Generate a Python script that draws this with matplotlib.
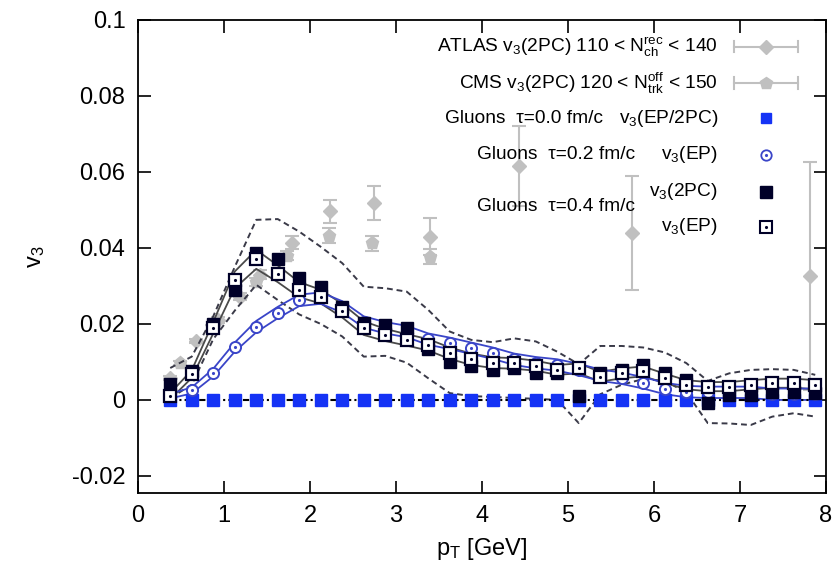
import matplotlib
matplotlib.use("Agg")
import matplotlib.pyplot as plt

plt.rcParams['font.family'] = ['Liberation Sans', 'DejaVu Sans']
plt.rcParams['mathtext.fontset'] = 'custom'
plt.rcParams['mathtext.rm'] = 'Liberation Sans'
plt.rcParams['mathtext.it'] = 'Liberation Sans:italic'
plt.rcParams['mathtext.bf'] = 'Liberation Sans:bold'

# ---------------- data ----------------
pt = [0.375, 0.625, 0.875, 1.125, 1.375, 1.625, 1.875, 2.125, 2.375, 2.625,
      2.875, 3.125, 3.375, 3.625, 3.875, 4.125, 4.375, 4.625, 4.875, 5.125,
      5.375, 5.625, 5.875, 6.125, 6.375, 6.625, 6.875, 7.125, 7.375, 7.625, 7.875]

v3_tau00 = [0.0] * 31

v3_tau02_ep = [0.0010, 0.0025, 0.0072, 0.0139, 0.0193, 0.0230, 0.0262, 0.0268, 0.0245, 0.0205,
               0.0190, 0.0180, 0.0160, 0.0149, 0.0136, 0.0123, 0.0107, 0.0098, 0.0092, 0.0080,
               0.0065, 0.0057, 0.0045, 0.0030, 0.0022, 0.0020, 0.0020, 0.0020, 0.0015, 0.0015, 0.0015]
err_tau02_ep = [0.0006, 0.0008, 0.0010, 0.0012, 0.0015, 0.0015, 0.0015, 0.0015, 0.0015, 0.0015,
                0.0015, 0.0015, 0.0015, 0.0015, 0.0015, 0.0015, 0.0015, 0.0015, 0.0015, 0.0015,
                0.0015, 0.0015, 0.0015, 0.0015, 0.0015, 0.0015, 0.0015, 0.0015, 0.0015, 0.0015, 0.0015]

v3_tau04_2pc = [0.0041, 0.0076, 0.0200, 0.0290, 0.0386, 0.0370, 0.0320, 0.0297, 0.0245, 0.0203,
                0.0197, 0.0189, 0.0133, 0.0100, 0.0088, 0.0080, 0.0084, 0.0072, 0.0071, 0.0010,
                0.0070, 0.0079, 0.0092, 0.0070, 0.0053, -0.0009, 0.0013, 0.0013, 0.0022, 0.0022, 0.0018]
band_2pc_hi = [0.0084, 0.0114, 0.0220, 0.0350, 0.0474, 0.0476, 0.0443, 0.0403, 0.0360, 0.0298,
               0.0294, 0.0285, 0.0237, 0.0180, 0.0158, 0.0152, 0.0162, 0.0154, 0.0127, 0.0094,
               0.0142, 0.0142, 0.0138, 0.0125, 0.0097, 0.0050, 0.0070, 0.0079, 0.0081, 0.0079, 0.0066]
band_2pc_lo = [0.0005, 0.0040, 0.0160, 0.0235, 0.0303, 0.0263, 0.0225, 0.0200, 0.0167, 0.0114,
               0.0116, 0.0098, 0.0057, 0.0018, 0.0010, 0.0008, 0.0005, 0.0003, 0.0000, -0.0061,
               0.0015, 0.0040, 0.0055, 0.0050, 0.0020, -0.0061, -0.0062, -0.0066, -0.0044, -0.0035, -0.0044]

v3_tau04_ep = [0.0010, 0.0068, 0.0190, 0.0316, 0.0370, 0.0332, 0.0290, 0.0272, 0.0235, 0.0189,
               0.0171, 0.0158, 0.0145, 0.0123, 0.0107, 0.0098, 0.0096, 0.0090, 0.0079, 0.0083,
               0.0061, 0.0070, 0.0075, 0.0057, 0.0040, 0.0035, 0.0035, 0.0040, 0.0044, 0.0044, 0.0040]
err_tau04_ep = [0.0008, 0.0010, 0.0015, 0.0022, 0.0025, 0.0022, 0.0020, 0.0018, 0.0018, 0.0018,
                0.0016, 0.0015, 0.0015, 0.0015, 0.0015, 0.0014, 0.0014, 0.0013, 0.0013, 0.0013,
                0.0013, 0.0013, 0.0013, 0.0012, 0.0012, 0.0012, 0.0012, 0.0012, 0.0012, 0.0012, 0.0012]

atlas_pt = [0.37, 0.68, 0.93, 1.19, 1.42, 1.79, 2.23, 2.74, 3.40, 4.43, 5.74, 7.81]
atlas_v3 = [0.0057, 0.0155, 0.0210, 0.0272, 0.0330, 0.0414, 0.0496, 0.0518, 0.0430, 0.0616, 0.0439, 0.0325]
atlas_err = [0.0005, 0.0006, 0.0008, 0.0010, 0.0012, 0.0018, 0.0031, 0.0045, 0.0049, 0.0105, 0.0150, 0.0300]

cms_pt = [0.49, 0.86, 1.37, 1.73, 2.22, 2.72, 3.40]
cms_v3 = [0.0097, 0.0190, 0.0310, 0.0380, 0.0432, 0.0412, 0.0377]
cms_err = [0.0005, 0.0008, 0.0010, 0.0012, 0.0020, 0.0020, 0.0020]

xticks = [0, 1, 2, 3, 4, 5, 6, 7, 8]
xtick_labels = ['0', '1', '2', '3', '4', '5', '6', '7', '8']
yticks = [-0.02, 0.0, 0.02, 0.04, 0.06, 0.08, 0.1]
ytick_labels = ['-0.02', '0', '0.02', '0.04', '0.06', '0.08', '0.1']

# ---------------- styles ----------------
GRAY = '#c0c0c0'
BLUE_SQ = '#1533f5'
BLUE_C = '#3a45c8'
NAVY = '#000028'
DASH = '#3a3a48'
SOLID = '#4a4a4a'

fig = plt.figure(figsize=(8.4, 5.71), dpi=100)
ax = fig.add_axes([138/840, 1-493/571, 688/840, 473/571])

# experimental data
ax.errorbar(atlas_pt, atlas_v3, yerr=atlas_err, fmt='D', color=GRAY, ms=7.5, mec=GRAY,
            mfc=GRAY, elinewidth=1.5, capsize=5, capthick=1.5, zorder=1)
ax.errorbar(cms_pt, cms_v3, yerr=cms_err, fmt='p', color=GRAY, ms=9.5, mec=GRAY,
            mfc=GRAY, elinewidth=1.5, capsize=5, capthick=1.5, zorder=1)

# bands
ax.plot(pt, band_2pc_hi, color=DASH, lw=1.4, ls=(0, (3, 2)), zorder=2)
ax.plot(pt, band_2pc_lo, color=DASH, lw=1.4, ls=(0, (3, 2)), zorder=2)
ep04_hi = [v + e for v, e in zip(v3_tau04_ep, err_tau04_ep)]
ep04_lo = [v - e for v, e in zip(v3_tau04_ep, err_tau04_ep)]
ax.plot(pt, ep04_hi, color=SOLID, lw=1.3, zorder=2)
ax.plot(pt, ep04_lo, color=SOLID, lw=1.3, zorder=2)
ep02_hi = [v + e for v, e in zip(v3_tau02_ep, err_tau02_ep)]
ep02_lo = [v - e for v, e in zip(v3_tau02_ep, err_tau02_ep)]
ax.plot(pt, ep02_hi, color=BLUE_C, lw=1.3, zorder=2)
ax.plot(pt, ep02_lo, color=BLUE_C, lw=1.3, zorder=2)
ax.plot(pt, v3_tau00, color='black', lw=1.5, ls=(0, (3, 1.5, 1, 1.5)), zorder=2)

# model points
ax.plot(pt, v3_tau00, 's', color=BLUE_SQ, ms=8.5, mec=BLUE_SQ, zorder=3)
ax.plot(pt, v3_tau02_ep, 'o', mfc='white', mec=BLUE_C, mew=1.4, ms=8, zorder=4)
ax.plot(pt, v3_tau02_ep, '.', color=BLUE_C, ms=2.5, zorder=4)
ax.plot(pt, v3_tau04_2pc, 's', color=NAVY, mec=NAVY, ms=9, zorder=5)
ax.plot(pt, v3_tau04_ep, 's', mfc='white', mec=NAVY, mew=1.6, ms=9, zorder=6)
ax.plot(pt, v3_tau04_ep, '.', color=NAVY, ms=2.5, zorder=6)

# axes
ax.set_xlim(0, 8)
ax.set_ylim(-0.0245, 0.1)
ax.set_xticks(xticks)
ax.set_xticklabels(xtick_labels)
ax.set_yticks(yticks)
ax.set_yticklabels(ytick_labels)
ax.tick_params(direction='in', length=9, width=1.2, top=True, right=True,
               labelsize=17, pad=9)
for s in ax.spines.values():
    s.set_linewidth(1.3)
ax.set_xlabel('p$_{\\rm T}$ [GeV]', fontsize=17, labelpad=6)
ax.set_ylabel('v$_3$', fontsize=17, labelpad=18)

# legend (gnuplot style: right-aligned text, sample on the right)
T = ax.transAxes
fs = 13.8
tx = 0.843
sx = 0.9128
rows = [0.9436, 0.8668, 0.7928, 0.7146, 0.6364, 0.5624]
ax.text(tx, rows[0], 'ATLAS v$_3$(2PC) 110 < N$_{\\rm ch}^{\\rm rec}$ < 140', transform=T,
        ha='right', va='center', fontsize=fs)
ax.text(tx, rows[1], 'CMS v$_3$(2PC) 120 < N$_{\\rm trk}^{\\rm off}$ < 150', transform=T,
        ha='right', va='center', fontsize=fs)
ax.text(0.676, rows[2], 'Gluons  τ=0.0 fm/c', transform=T, ha='right', va='center', fontsize=fs)
ax.text(tx, rows[2], 'v$_3$(EP/2PC)', transform=T, ha='right', va='center', fontsize=fs)
ax.text(0.7224, rows[3], 'Gluons  τ=0.2 fm/c', transform=T, ha='right', va='center', fontsize=fs)
ax.text(tx, rows[3], 'v$_3$(EP)', transform=T, ha='right', va='center', fontsize=fs)
ax.text(tx, rows[4], 'v$_3$(2PC)', transform=T, ha='right', va='center', fontsize=fs)
ax.text(0.7224, 0.6047, 'Gluons  τ=0.4 fm/c', transform=T, ha='right', va='center', fontsize=fs)
ax.text(tx, rows[5], 'v$_3$(EP)', transform=T, ha='right', va='center', fontsize=fs)

for r, mk, ms in [(rows[0], 'D', 7), (rows[1], 'p', 9)]:
    ax.plot([0.866, 0.959], [r, r], color=GRAY, lw=1.5, transform=T, clip_on=False)
    ax.plot([0.866, 0.866], [r - 0.012, r + 0.012], color=GRAY, lw=1.5, transform=T)
    ax.plot([0.959, 0.959], [r - 0.012, r + 0.012], color=GRAY, lw=1.5, transform=T)
    ax.plot([sx], [r], mk, color=GRAY, ms=ms, transform=T)
ax.plot([sx], [rows[2]], 's', color=BLUE_SQ, ms=7.5, transform=T)
ax.plot([sx], [rows[3]], 'o', mfc='white', mec=BLUE_C, mew=1.3, ms=7.5, transform=T)
ax.plot([sx], [rows[3]], '.', color=BLUE_C, ms=2.5, transform=T)
ax.plot([sx], [rows[4]], 's', color=NAVY, ms=8.5, transform=T)
ax.plot([sx], [rows[5]], 's', mfc='white', mec=NAVY, mew=1.5, ms=8.5, transform=T)
ax.plot([sx], [rows[5]], '.', color=NAVY, ms=2.5, transform=T)

fig.savefig('out.png', dpi=100)
